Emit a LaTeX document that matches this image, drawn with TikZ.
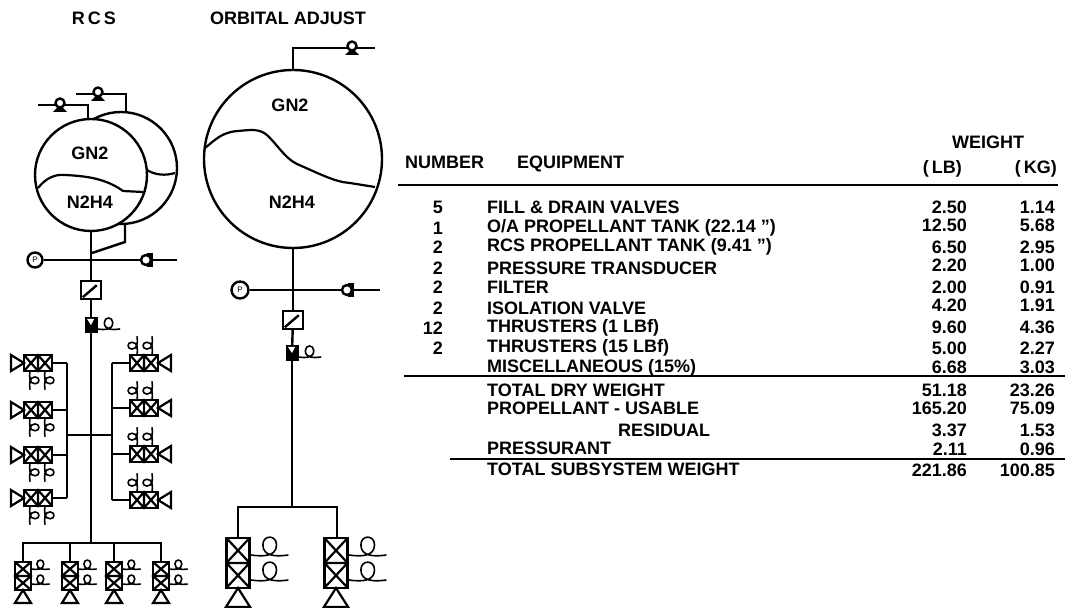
\documentclass[tikz,border=0pt]{standalone}
\usepackage{fontspec}
\setmainfont{Liberation Sans}
\newcommand{\coilshape}[1]{
  \draw[line width=1.6pt, #1] (0,0) .. controls (7,1) and (15,1) .. (15,-6)
  .. controls (15,-12) and (7,-12) .. (7,-6) .. controls (7,1) and (15,1) .. (22,0);
}
\newcommand{\thrusterbody}[1]{
  \begin{scope}[#1]
    \draw[line width=2.4pt, fill=white] (-8,0) rectangle (8,28);
    \draw[line width=2.2pt] (-8,14) -- (8,14) (-8,0) -- (8,14) -- (-8,28)
    (8,0) -- (-8,14) -- (8,28);
  \end{scope}
}
\newcommand{\nozzleshape}[1]{
  \draw[line width=2.2pt, fill=white, #1] (0,0) -- (-8,13) -- (8,13) -- cycle;
}
\newcommand{\smallthruster}[1]{
  \begin{scope}[#1]
    \thrusterbody{}
    \nozzleshape{shift={(0,28)}}
    \coilshape{shift={(8,7)}, scale=.85}
    \coilshape{shift={(8,22)}, scale=.85}
  \end{scope}
}
\newcommand{\tankvalve}[1]{
  \begin{scope}[shift={#1}]
    \fill (-7,7) -- (7,7) -- (0,0) -- cycle;
    \draw[line width=2.4pt, fill=white] (0,-2) circle (4.5);
  \end{scope}
}
\newcommand{\linevalve}[1]{
  \begin{scope}[shift={#1}]
    \fill (1,-7) -- (7,-7) -- (7,7) -- (1,7) -- cycle;
    \draw[line width=2.4pt, fill=white] (0,0) circle (5);
  \end{scope}
}
\newcommand{\isovalve}[1]{
  \begin{scope}[shift={#1}]
    \fill (-6,-7) rectangle (7,9);
    \fill[white] (-4,-5) -- (3,-5) -- (0,1) -- cycle;
    \coilshape{shift={(6,5)}, scale=1.05}
  \end{scope}
}
\begin{document}
\begin{tikzpicture}[
        x=1pt, y=-1pt,
        every node/.style={align=center, font=\fontsize{18}{20}\selectfont\bfseries, inner sep=0pt},
        pipe/.style={line width=2.4pt},
        tank/.style={draw, circle, line width=2.4pt, fill=white, inner sep=0pt},
        level/.style={line width=2.2pt},
        gauge/.style={draw, circle, line width=2.4pt, fill=white, minimum size=15pt,
        font=\fontsize{8}{8}\selectfont},
        filterbox/.style={draw, line width=2.4pt, fill=white, minimum width=20pt, minimum height=18pt},
        rule/.style={line width=2.2pt}
      ]
    \useasboundingbox (0,0) rectangle (1065,609);

    \node (rcstitle) at (94,18) {R\,C\,S};
    \node (oatitle) at (288,18) {ORBITAL ADJUST};

    % RCS side
    \node[tank, minimum size=112pt] (reartank) at (121,168) {};
    \draw[level] (147,170) .. controls (155,175) and (165,176) .. (175,173);
    \node[tank, minimum size=112pt] (rcstank) at (91,175) {};
    \draw[level] (38,188) .. controls (46,178) and (55,174) .. (65,175)
    .. controls (85,176) and (105,178) .. (123,191) -- (143,192);
    \node (rcsgas) at (90,153) {GN2};
    \node (rcsfuel) at (90,202) {N2H4};

    \coordinate (rcsin1) at (38,105);
    \coordinate (rcsin2) at (76,94);
    \coordinate (rcscorner1) at (88,105);
    \coordinate (rcscorner2) at (126,94);
    \draw[pipe] (rcsin1) -- (rcscorner1) -- (88,120);
    \draw[pipe] (rcsin2) -- (rcscorner2) -- (126,111);
    \tankvalve{(60,105)}
    \tankvalve{(98,94)}

    \node[gauge] (rcsgauge) at (35,260) {P};
    \coordinate (rcsend) at (177,260);
    \coordinate (rcstee) at (92,253);
    \coordinate (rcsstub) at (125,242);
    \node[filterbox] (rcsfilter) at (91,290) {};
    \draw[pipe] (rcsgauge) -- (rcsend);
    \draw[pipe] (rcstank.south) -- (rcsfilter);
    \draw[pipe] (rcstee) -- (rcsstub) -- (125,224);
    \linevalve{(146,260)}
    \coordinate (rcsvalve) at (91,324);
    \coordinate (rcsbus) at (91,543);
    \draw[pipe] (rcsfilter) -- (rcsvalve);
    \draw[pipe] (rcsvalve) -- (rcsbus);
    \node[filterbox] at (rcsfilter) {};
    \draw[pipe] (rcsfilter.south west) ++(3,-3) -- ++(14,-12);
    \isovalve{(rcsvalve)}

    % 1 LBf thrusters
    \coordinate (railleft) at (67,435);
    \coordinate (railright) at (112,435);
    \draw[pipe] (railleft) -- (railright);
    \draw[pipe] (67,363) -- (67,498);
    \draw[pipe] (112,363) -- (112,500);
    \foreach \y in {363,410,455,498}{
      \draw[pipe] (67,\y) -- (52,\y);
      \smallthruster{shift={(52,\y)}, rotate=-90}
    }
    \foreach \y in {363,408,454,500}{
      \draw[pipe] (112,\y) -- (130,\y);
      \smallthruster{shift={(130,\y)}, rotate=90}
    }
    \draw[pipe] (23,562) -- (23,543) -- (161,543) -- (161,562);
    \foreach \x in {23,70,114,161}{
      \draw[pipe] (\x,543) -- (\x,562);
      \smallthruster{shift={(\x,562)}}
    }

    % orbital adjust side
    \node[tank, minimum size=178pt] (oatank) at (293,159) {};
    \draw[level] (205,148) .. controls (215,140) and (222,132) .. (238,131)
    .. controls (250,130) and (260,128) .. (268,136) .. controls (280,148) and (285,158) .. (297,164)
    .. controls (320,174) and (335,182) .. (350,183) -- (375,187);
    \node (oagas) at (290,105) {GN2};
    \node (oafuel) at (292,202) {N2H4};

    \coordinate (oacorner) at (293,48);
    \coordinate (oain) at (375,48);
    \draw[pipe] (oatank.north) -- (oacorner) -- (oain);
    \tankvalve{(352,48)}

    \node[gauge, minimum size=17pt] (oagauge) at (240,290) {P};
    \coordinate (oaend) at (380,290);
    \node[filterbox] (oafilter) at (293,320) {};
    \coordinate (oavalve) at (292,352);
    \coordinate (oabus) at (292,507);
    \draw[pipe] (oagauge) -- (oaend);
    \draw[pipe] (oatank.south) -- (oafilter);
    \draw[pipe] (oafilter) -- (oavalve);
    \draw[pipe] (oavalve) -- (oabus);
    \node[filterbox] at (oafilter) {};
    \draw[pipe] (oafilter.south west) ++(3,-3) -- ++(14,-12);
    \isovalve{(oavalve)}
    \linevalve{(347,290)}

    % 15 LBf thrusters
    \draw[pipe] (238,538) -- (238,507) -- (337,507) -- (337,538);
    \foreach \x in {238,336}{
      \thrusterbody{shift={(\x,538)}, xscale=1.45, yscale=1.78}
      \nozzleshape{shift={(\x,588)}, xscale=1.5, yscale=1.45}
      \coilshape{shift={(\x+13,555)}, scale=1.7}
      \coilshape{shift={(\x+13,580)}, scale=1.7}
    }

    % weight table
    \node[anchor=base west] (numberhead) at (405,169) {NUMBER};
    \node[anchor=base west] (equiphead) at (517,169) {EQUIPMENT};
    \node (weighthead) at (988,142) {WEIGHT};
    \node[anchor=base east] (lbhead) at (962,174) {(\,LB)};
    \node[anchor=base east] (kghead) at (1057,174) {(\,KG)};
    \coordinate (toprule) at (398,185);
    \coordinate (midrule) at (404,376);
    \coordinate (lowrule) at (450,459);
    \draw[rule] (toprule) -- (1058,185);
    \draw[rule] (midrule) -- (1065,376);
    \draw[rule] (lowrule) -- (1065,459);

    \foreach \ya/\yb/\num/\equip/\lb/\kg in {
      207/207/5/{FILL \& DRAIN VALVES}/2.50/1.14,
      228/225/1/{O/A PROPELLANT TANK (22.14 \symbol{34})}/12.50/5.68,
      247/247/2/{RCS PROPELLANT TANK (9.41 \symbol{34})}/6.50/2.95,
      268/265/2/{PRESSURE TRANSDUCER}/2.20/1.00,
      287/287/2/{FILTER}/2.00/0.91,
      308/305/2/{ISOLATION VALVE}/4.20/1.91,
      328/327/12/{THRUSTERS (1 LBf)}/9.60/4.36,
      348/348/2/{THRUSTERS (15 LBf)}/5.00/2.27,
      368/367//{MISCELLANEOUS (15\%)}/6.68/3.03,
      390/390//{TOTAL DRY WEIGHT}/51.18/23.26,
      408/408//{PROPELLANT - USABLE}/165.20/75.09,
      448/449//{PRESSURANT}/2.11/0.96,
      469/470//{TOTAL SUBSYSTEM WEIGHT}/221.86/100.85}{
      \node[anchor=east] at (443,\ya) {\num};
      \node[anchor=west] at (487,\ya) {\equip};
      \node[anchor=east] at (967,\yb) {\lb};
      \node[anchor=east] at (1055,\yb) {\kg};
    }
    \node[anchor=west] (residual) at (618,430) {RESIDUAL};
    \node[anchor=east] (residuallb) at (967,430) {3.37};
    \node[anchor=east] (residualkg) at (1055,430) {1.53};
      \end{tikzpicture}
\end{document}
